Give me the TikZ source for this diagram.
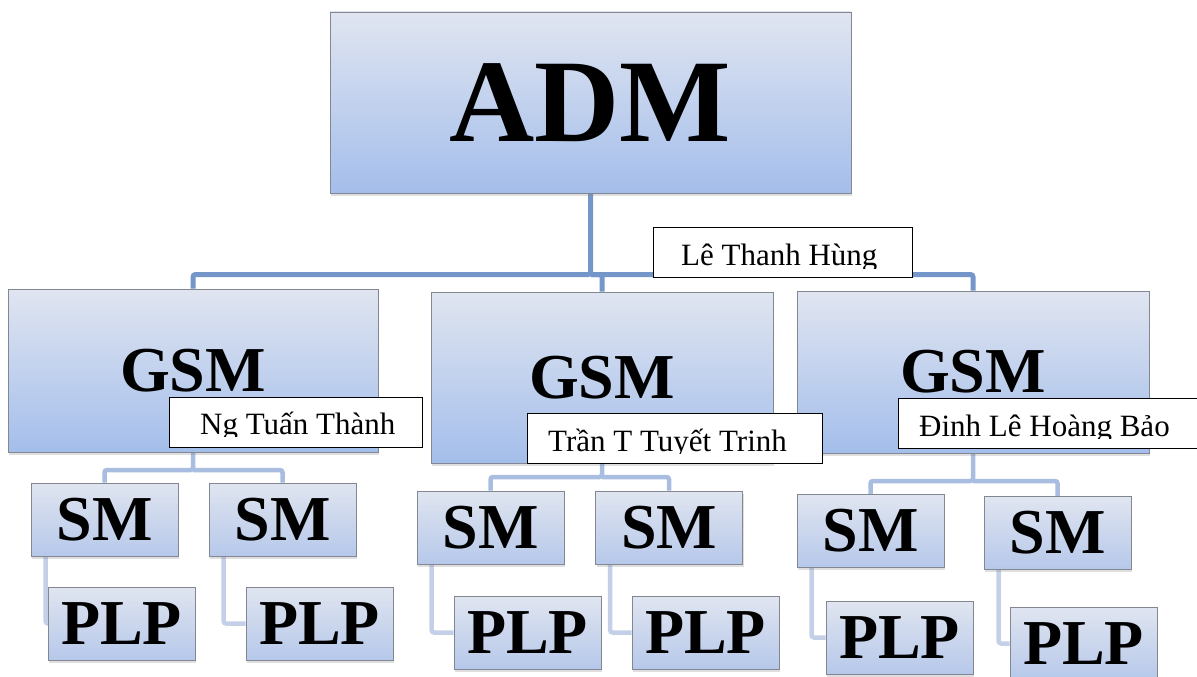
\documentclass[tikz,border=0pt]{standalone}
\usepackage{fontspec}
\setmainfont{Liberation Serif}
\usetikzlibrary{shadows}
\pgfdeclarelayer{background}
\pgfsetlayers{background,main}
\definecolor{boxtop}{RGB}{224,229,240}
\definecolor{boxbot}{RGB}{164,190,235}
\definecolor{smbot}{RGB}{182,200,234}
\definecolor{boxedge}{RGB}{130,135,145}
\definecolor{lineA}{RGB}{117,150,200}
\definecolor{lineB}{RGB}{168,189,224}
\definecolor{lineC}{RGB}{196,208,232}
\begin{document}
\begin{tikzpicture}[x=1pt,y=-1pt,
  orgbox/.style={rectangle, draw=boxedge, line width=0.8pt, top color=boxtop, bottom color=boxbot, inner sep=0pt,
    drop shadow={opacity=0.25, shadow xshift=1pt, shadow yshift=-2.5pt}},
  admbox/.style={orgbox, font=\fontsize{118}{118}\selectfont\bfseries},
  gsmbox/.style={orgbox, font=\fontsize{64}{64}\selectfont\bfseries},
  smallbox/.style={orgbox, bottom color=smbot, minimum width=147pt, minimum height=73pt, font=\fontsize{64}{64}\selectfont\bfseries},
  namebox/.style={rectangle, draw=black, line width=1pt, fill=white, inner sep=0pt},
  nametext/.style={anchor=base west, inner sep=0pt, font=\fontsize{31}{31}\selectfont},
  conA/.style={draw=lineA, line width=5pt, rounded corners=2.5pt},
  conB/.style={draw=lineB, line width=4.5pt, rounded corners=2.5pt},
  conC/.style={draw=lineC, line width=4.5pt, rounded corners=2.5pt}
]
\useasboundingbox (0,0) rectangle (1197,677);

% ---- boxes ----
\node[admbox, minimum width=521pt, minimum height=181pt] (adm) at (590.5,102.5) {ADM};
\node[gsmbox, minimum width=370pt, minimum height=163pt] (gsm1) at (193,370.5) {GSM};
\node[gsmbox, minimum width=342pt, minimum height=171pt] (gsm2) at (602,377.5) {GSM};
\node[gsmbox, minimum width=352pt, minimum height=162pt] (gsm3) at (973,372) {GSM};

\node[smallbox] (sm11) at (104.5,519.5) {SM};
\node[smallbox] (sm12) at (282.5,519.5) {SM};
\node[smallbox] (plp11) at (121.5,623.5) {PLP};
\node[smallbox] (plp12) at (319.5,623.5) {PLP};
\node[smallbox] (sm21) at (490.5,527.5) {SM};
\node[smallbox] (sm22) at (669,527.5) {SM};
\node[smallbox] (plp21) at (527.5,632.5) {PLP};
\node[smallbox] (plp22) at (705.5,632.5) {PLP};
\node[smallbox] (sm31) at (870.5,531) {SM};
\node[smallbox] (sm32) at (1057.5,533) {SM};
\node[smallbox] (plp31) at (899.5,637.5) {PLP};
\node[smallbox] (plp32) at (1083.5,643.5) {PLP};

% ---- connectors (behind the boxes) ----
\coordinate (bA) at (591,274.5);
\coordinate (b1) at (0,470);
\coordinate (b2) at (0,477);
\coordinate (b3) at (0,481);

\begin{pgfonlayer}{background}
\draw[conA] (adm.south) -- (adm.south |- bA) -| (gsm1.north);
\draw[conA] (adm.south |- bA) -| (gsm2.north);
\draw[conA] (adm.south |- bA) -| (gsm3.north);

\draw[conB] (gsm1.south) -- (gsm1.south |- b1) -| (sm11.north);
\draw[conB] (gsm1.south |- b1) -| (sm12.north);
\draw[conB] (gsm2.south) -- (gsm2.south |- b2) -| (sm21.north);
\draw[conB] (gsm2.south |- b2) -| (sm22.north);
\draw[conB] (gsm3.south) -- (gsm3.south |- b3) -| (sm31.north);
\draw[conB] (gsm3.south |- b3) -| (sm32.north);

\draw[conC] ([xshift=15pt]sm11.south west) |- (plp11.west);
\draw[conC] ([xshift=15pt]sm12.south west) |- (plp12.west);
\draw[conC] ([xshift=15pt]sm21.south west) |- (plp21.west);
\draw[conC] ([xshift=15pt]sm22.south west) |- (plp22.west);
\draw[conC] ([xshift=15pt]sm31.south west) |- (plp31.west);
\draw[conC] ([xshift=15pt]sm32.south west) |- (plp32.west);
\end{pgfonlayer}

% ---- name labels ----
\node[namebox, minimum width=259pt, minimum height=50pt] (n0) at (782.5,252) {};
\node[namebox, minimum width=253pt, minimum height=50pt] (n1) at (295.5,422) {};
\node[namebox, minimum width=295pt, minimum height=50pt] (n2) at (674.5,438) {};
\node[namebox, minimum width=302pt, minimum height=50pt] (n3) at (1049,423) {};

\begin{scope}
  \clip (n0.north west) rectangle ([yshift=9pt]n0.south east);
  \node[nametext] (t0) at (681,265) {Lê Thanh Hùng};
\end{scope}
\begin{scope}
  \clip (n1.north west) rectangle ([yshift=11pt]n1.south east);
  \node[nametext] (t1) at (200,434) {Ng Tuấn Thành};
\end{scope}
\begin{scope}
  \clip (n2.north west) rectangle ([yshift=10pt]n2.south east);
  \node[nametext] (t2) at (548,451) {Trần T Tuyết Trinh};
\end{scope}
\begin{scope}
  \clip (n3.north west) rectangle ([yshift=10.5pt]n3.south east);
  \node[nametext] (t3) at (919,436) {Đinh Lê Hoàng Bảo};
\end{scope}
\end{tikzpicture}
\end{document}
